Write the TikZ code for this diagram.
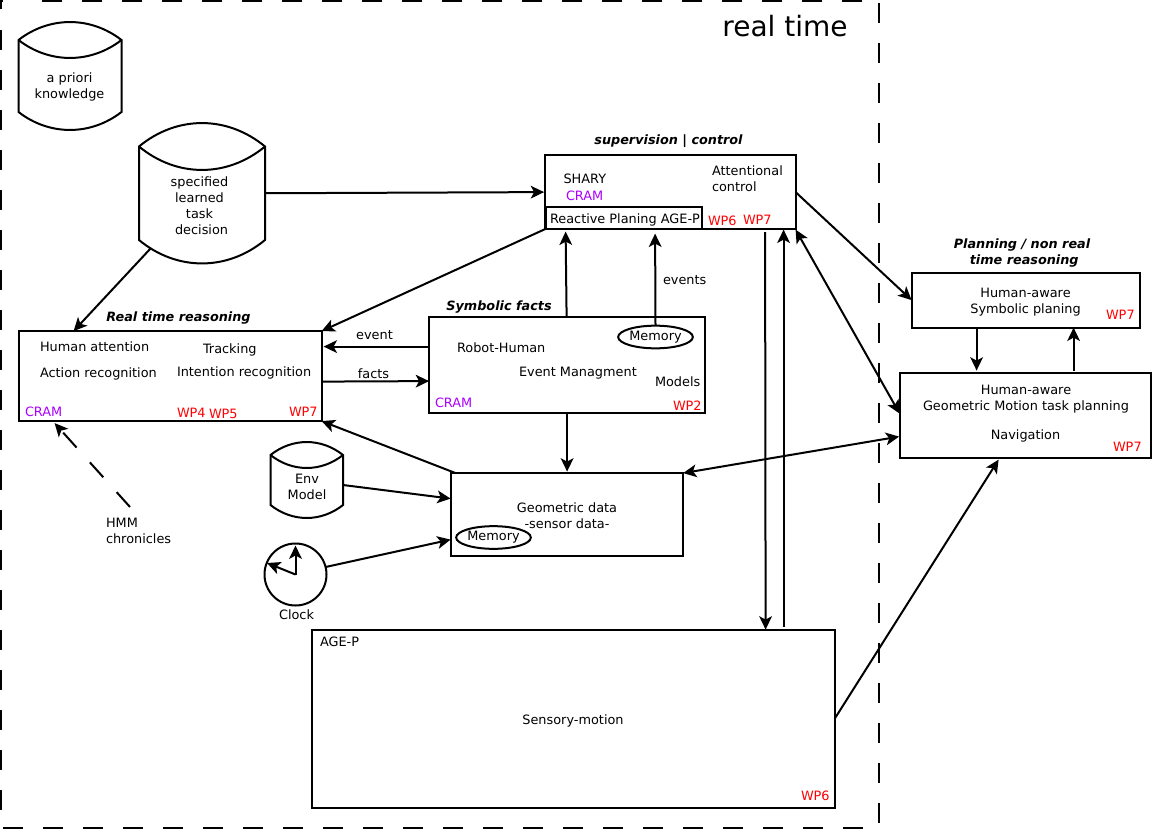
\documentclass[tikz,border=0pt]{standalone}
\usepackage{fontspec}
\setmainfont{DejaVu Sans}
\usetikzlibrary{arrows.meta,calc,shapes.geometric}
\definecolor{wpred}{RGB}{255,0,0}
\definecolor{crampurple}{RGB}{170,0,255}
\tikzset{
  x=0.75pt,y=-0.75pt,
  every node/.style={font=\fontsize{9.65pt}{12pt}\selectfont,text=black,inner sep=0pt,outer sep=0pt},
  txt/.style={align=center,yshift=-0.6pt},
  ltxt/.style={align=left,anchor=west,yshift=-0.6pt},
  wp/.style={text=wpred},
  cram/.style={text=crampurple},
  ttl/.style={align=center,yshift=-0.6pt,font=\fontsize{9.6pt}{12pt}\selectfont\bfseries\itshape},
  conn/.style={line width=1.5pt,-{Stealth[length=10pt,width=9.5pt,inset=2.5pt]}},
  biconn/.style={line width=1.5pt,{Stealth[length=10pt,width=9.5pt,inset=2.5pt]}-{Stealth[length=10pt,width=9.5pt,inset=2.5pt]}},
  frame/.style={line width=1.5pt,dash pattern=on 15pt off 15pt},
  memo/.style={draw=black,line width=1.5pt,ellipse,minimum width=56pt,minimum height=17pt},
}
% box by corners in px: name, x0, y0, x1, y1
\newcommand{\pbox}[5]{\node[draw=black,line width=1.5pt,rectangle,anchor=north west,minimum width={(#4-#2)*0.75pt},minimum height={(#5-#3)*0.75pt}] (#1) at ({#2-0.4},{#3-0.4}) {};}
% cylinder: name, x0, x1, ytop, ybot, bulge
\newcommand{\pcyl}[6]{%
  \node[rectangle,anchor=north west,minimum width={(#3-#2)*0.75pt},minimum height={(#5-#4)*0.75pt}] (#1) at (#2,#4) {};
  \draw[line width=1.5pt] (#2,#4) .. controls ({#2+(#3-#2)*0.3},{#4-#6*1.33}) and ({#2+(#3-#2)*0.7},{#4-#6*1.33}) .. (#3,#4)
     -- (#3,#5) .. controls ({#2+(#3-#2)*0.7},{#5+#6*1.33}) and ({#2+(#3-#2)*0.3},{#5+#6*1.33}) .. (#2,#5) -- cycle;
  \draw[line width=1.5pt] (#2,#4) .. controls ({#2+(#3-#2)*0.3},{#4+#6*1.33}) and ({#2+(#3-#2)*0.7},{#4+#6*1.33}) .. (#3,#4);
}
\begin{document}
\begin{tikzpicture}
\useasboundingbox (0,0) rectangle (1152,828);
% real-time frame
\draw[line width=1.5pt] (1,9) -- (1,1) -- (3,1);
\draw[frame] (42,1) -- (879,1);
\draw[frame] (879,3) -- (879,827);
\draw[frame] (1,30) -- (1,812);
\draw[frame] (3,827.7) -- (879,827.7);
\node[font=\fontsize{21pt}{24pt}\selectfont] (rt) at (785,26) {real time};
% stores
\pcyl{apriori}{18.5}{121.5}{40}{112}{18}
\pcyl{spec}{139}{265}{146.5}{240}{23.5}
\pcyl{env}{270.5}{343}{455}{505}{13}
\node[txt] (s1) at (69.5,86) {a priori\ \\knowledge};
\node[txt] (s2) at (199.5,204.5) {specified\\learned\\task\\\ decision};
\node[txt] (s3) at (307,486) {Env\\Model};
% boxes
\pbox{sup}{545.5}{155.5}{796}{229.5}
\pbox{react}{546}{207}{702.5}{229.5}
\pbox{rtr}{19}{331.5}{322}{421.5}
\pbox{sym}{429.5}{317}{705.5}{413.5}
\pbox{geo}{451.5}{473.5}{683.5}{556}
\pbox{age}{312}{630}{835}{808.5}
\pbox{hasym}{912}{273}{1140}{328}
\pbox{hageo}{900.5}{373}{1151}{458}
\node[memo] (mem1) at (655.5,337) {\raisebox{-0.6pt}{Memory}};
\node[memo] (mem2) at (493.5,537.5) {\raisebox{-0.6pt}{Memory}};
\node[draw=black,line width=1.5pt,circle,minimum size=46.5pt] (clock) at (295.5,574.5) {};
% titles
\node[ttl] (t1) at (668.5,140) {supervision | control};
\node[ttl] (t2) at (178.5,317) {Real time reasoning};
\node[ttl] (t3) at (499,306) {Symbolic facts};
\node[ttl] (t4) at (1022,252) {Planning / non real\\\ time reasoning};
% supervision
\node[ltxt] (a1) at (563.5,178) {SHARY};
\node[ltxt,cram] (a2) at (566,195) {CRAM};
\node[ltxt] (a3) at (712,178) {Attentional\\control};
\node[ltxt] (a4) at (550,219) {Reactive Planing AGE-P};
\node[ltxt,wp] (a5) at (708,220) {WP6};
\node[ltxt,wp] (a6) at (743,219) {WP7};
% real time reasoning
\node[ltxt] (b1) at (40,346) {Human attention};
\node[ltxt] (b2) at (40,373) {Action recognition};
\node[ltxt] (b3) at (203,349) {Tracking};
\node[ltxt] (b4) at (177,372) {Intention recognition};
\node[ltxt,cram] (b5) at (25,411) {CRAM};
\node[ltxt,wp] (b6) at (177,412) {WP4};
\node[ltxt,wp] (b7) at (209,413) {WP5};
\node[ltxt,wp] (b8) at (289,411) {WP7};
% symbolic
\node[ltxt] (c1) at (457,347) {Robot-Human};
\node[ltxt] (c2) at (519,372) {Event Managment};
\node[ltxt] (c3) at (655,381) {Models};
\node[ltxt,cram] (c4) at (435,402) {CRAM};
\node[ltxt,wp] (c5) at (673,405) {WP2};
% geometric
\node[txt] (d1) at (567,515) {Geometric data\\-sensor data-};
% age-p
\node[ltxt] (e1) at (320,641) {AGE-P};
\node[txt] (e2) at (573,720) {Sensory-motion};
\node[ltxt,wp] (e3) at (801,795) {WP6};
% planners
\node[txt] (f1) at (1025.5,301) {Human-aware\\Symbolic planing};
\node[ltxt,wp] (f2) at (1106,314) {WP7};
\node[txt] (f3) at (1026,398) {Human-aware\\Geometric Motion task planning};
\node[txt] (f4) at (1025.5,435) {Navigation};
\node[ltxt,wp] (f5) at (1113,446) {WP7};
% edge labels
\node[txt] (g1) at (374.5,334) {event};
\node[txt] (g2) at (373.5,373) {facts};
\node[ltxt] (g3) at (663,279) {events};
\node[ltxt] (g4) at (106,530) {HMM\\chronicles};
\node[txt] (g5) at (296.5,614) {Clock};
% clock hands
\coordinate (h1) at (295.5,545.5);
\coordinate (h2) at (267,563);
\draw[conn] (clock.center) -- (h1);
\draw[conn] (clock.center) -- (h2);
% connectors
\draw[conn] (spec.east) -- ($(sup.west)+(-1,0)$);
\draw[conn] ($(spec.south west)+(12,8)$) -- ($(rtr.north west)+(55,0)$);
\draw[conn] (sup.south west) -- (rtr.north east);
\draw[conn] ($(sym.north west)+(0,30)$) -- ($(rtr.north east)+(2,15.5)$);
\draw[conn] ($(rtr.north east)+(0,50.5)$) -- ($(sym.north west)+(0,64.5)$);
\draw[conn] ($(sym.north west)+(137.5,0)$) -- ($(react.south west)+(20,2.5)$);
\draw[conn] (mem1.north) -- ($(react.south east)+(-47,4.5)$);
\coordinate (hmm) at (130,507);
\draw[conn,dash pattern=on 15pt off 15pt] (hmm) -- ($(rtr.south west)+(36,2)$);
\draw[conn] (sym.south) -- ($(geo.north)+(0,-1.5)$);
\draw[conn] ($(geo.north west)+(4.5,0)$) -- (rtr.south east);
\draw[conn] ($(env.south east)+(0,-20)$) -- ($(geo.north west)+(-0.5,25.5)$);
\draw[conn] (clock.14) -- ($(geo.south west)+(-0.5,-16)$);
\draw[conn] (sup.east) -- (hasym.west);
\draw[biconn] ($(sup.south east)+(0,0.5)$) -- ($(hageo.west)+(-0.5,-1.5)$);
\draw[biconn] (geo.north east) -- ($(hageo.south west)+(-1,-21)$);
\draw[conn] ($(sup.south east)+(-30.5,3)$) -- ($(age.north east)+(-69,0)$);
\draw[conn] ($(age.north east)+(-51,-3)$) -- ($(sup.south east)+(-12,0.5)$);
\draw[conn] (age.east) -- ($(hageo.south west)+(98.5,2)$);
\draw[conn] ($(hasym.south west)+(65,0)$) -- ($(hageo.north west)+(76.5,-2)$);
\draw[conn] ($(hageo.north west)+(173.5,-2)$) -- ($(hasym.south west)+(162,0)$);
\end{tikzpicture}
\end{document}
